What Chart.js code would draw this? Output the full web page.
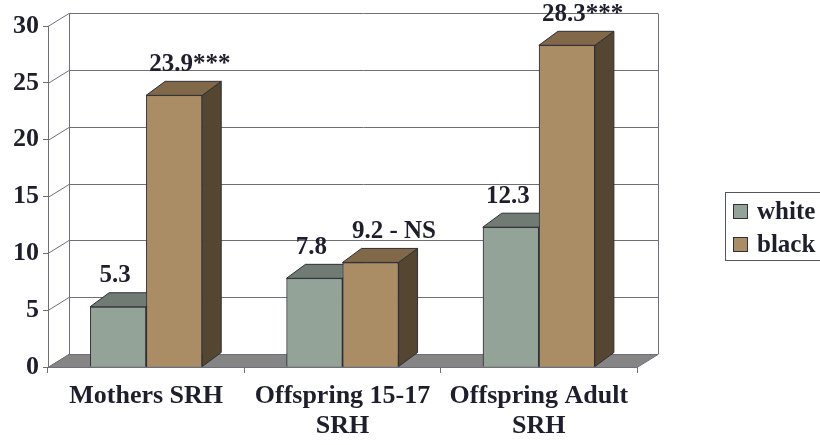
<!DOCTYPE html>
<html>
<head>
<meta charset="utf-8">
<script src="https://cdn.jsdelivr.net/npm/chart.js@4/dist/chart.umd.min.js"></script>
<style>
  html, body { margin: 0; padding: 0; background: #ffffff; }
  #wrap { width: 820px; height: 445px; position: relative; }
</style>
</head>
<body>
<div id="wrap"><canvas id="chart"></canvas></div>
<script>
// Categories (multi-line axis labels)
const categories = [['Mothers SRH'], ['Offspring 15-17', 'SRH'], ['Offspring Adult', 'SRH']];
// Series values
const whiteValues = [5.3, 7.8, 12.3];
const blackValues = [23.9, 9.2, 28.3];
// Significance notes appended to the black-series value labels
const whiteNotes = ['', '', ''];
const blackNotes = ['***', ' - NS', '***'];
// Value axis
const yMin = 0;
const yMax = 30;
const yStep = 5;

const FONT = "'Liberation Serif', 'Times New Roman', serif";
const TEXT = '#1e1e2c';
const GRID = '#6f6f78';
const EDGE = '#2f2f36';

// Offsets for the 3D look: walls/floor and bar depth
const WALL = { dx: 21, dy: -13 };
const BAR = { dx: 19, dy: -14 };

const faces = {
  white: { front: '#94a398', top: '#6f7b73', side: '#56605a' },
  black: { front: '#ab8d65', top: '#806849', side: '#554632' }
};

function poly(ctx, pts, fill, stroke) {
  ctx.beginPath();
  ctx.moveTo(pts[0][0], pts[0][1]);
  for (let i = 1; i < pts.length; i++) ctx.lineTo(pts[i][0], pts[i][1]);
  ctx.closePath();
  if (fill) { ctx.fillStyle = fill; ctx.fill(); }
  if (stroke) { ctx.strokeStyle = stroke; ctx.lineWidth = 1; ctx.stroke(); }
}

const box3d = {
  id: 'box3d',
  beforeDatasetsDraw(chart) {
    const { ctx, chartArea: a, scales: { y } } = chart;
    ctx.save();
    ctx.lineWidth = 1;
    ctx.strokeStyle = GRID;
    // side wall diagonals and back wall grid lines
    for (let v = yMin; v <= yMax; v += yStep) {
      const py = Math.round(y.getPixelForValue(v)) + 0.5;
      ctx.beginPath();
      ctx.moveTo(a.left, py);
      ctx.lineTo(a.left + WALL.dx, py + WALL.dy);
      ctx.lineTo(a.right + WALL.dx, py + WALL.dy);
      ctx.stroke();
    }
    const top = Math.round(y.getPixelForValue(yMax)) + 0.5 + WALL.dy;
    const bot = Math.round(y.getPixelForValue(yMin)) + 0.5 + WALL.dy;
    ctx.beginPath();
    ctx.moveTo(a.left + WALL.dx + 0.5, top);
    ctx.lineTo(a.left + WALL.dx + 0.5, bot);
    ctx.moveTo(a.right + WALL.dx + 0.5, top);
    ctx.lineTo(a.right + WALL.dx + 0.5, bot);
    ctx.stroke();
    // floor
    const fb = Math.round(y.getPixelForValue(yMin)) + 0.5;
    poly(ctx, [
      [a.left, fb], [a.right, fb],
      [a.right + WALL.dx, fb + WALL.dy], [a.left + WALL.dx, fb + WALL.dy]
    ], '#858585', GRID);
    ctx.restore();
  },
  afterDatasetsDraw(chart) {
    const { ctx } = chart;
    const bars = [];
    chart.data.datasets.forEach((ds, di) => {
      const meta = chart.getDatasetMeta(di);
      if (meta.hidden) return;
      meta.data.forEach((el, i) => bars.push({ el, di, i, key: ds.faceKey }));
    });
    bars.sort((p, q) => p.el.x - q.el.x);
    ctx.save();
    for (const b of bars) {
      const { x, y, base, width } = b.el.getProps(['x', 'y', 'base', 'width'], true);
      const l = x - width / 2, r = x + width / 2;
      const f = faces[b.key];
      // side face
      poly(ctx, [[r, y], [r + BAR.dx, y + BAR.dy], [r + BAR.dx, base + BAR.dy], [r, base]], f.side, EDGE);
      // top face
      poly(ctx, [[l, y], [l + BAR.dx, y + BAR.dy], [r + BAR.dx, y + BAR.dy], [r, y]], f.top, EDGE);
      // front face, drawn by the bar element itself
      b.el.draw(ctx);
    }
    // value labels
    ctx.font = 'bold 25px ' + FONT;
    ctx.fillStyle = TEXT;
    ctx.textBaseline = 'middle';
    ctx.textAlign = 'left';
    for (const b of bars) {
      const ds = chart.data.datasets[b.di];
      const { x, y } = b.el.getProps(['x', 'y'], true);
      const num = ds.data[b.i].toFixed(1);
      const note = ds.notes[b.i] || '';
      const w = ctx.measureText(num).width;
      const x0 = x - 3 - w / 2;
      const ym = y + BAR.dy - 17;
      ctx.fillText(num, x0, ym);
      if (note) ctx.fillText(note, x0 + w, ym);
    }
    ctx.restore();
  },
  afterDraw(chart) {
    // legend box on the right
    const { ctx } = chart;
    ctx.save();
    ctx.strokeStyle = '#55555e';
    ctx.lineWidth = 1;
    ctx.strokeRect(725.5, 192.5, 100, 68);
    ctx.font = 'bold 25px ' + FONT;
    ctx.textBaseline = 'middle';
    ctx.textAlign = 'left';
    chart.data.datasets.forEach((ds, di) => {
      const cy = 212 + di * 33;
      ctx.fillStyle = ds.backgroundColor;
      ctx.fillRect(733.5, cy - 7.5, 14, 14);
      ctx.strokeStyle = EDGE;
      ctx.strokeRect(733.5, cy - 7.5, 14, 14);
      ctx.fillStyle = TEXT;
      ctx.fillText(ds.label, 757, cy + 1);
    });
    ctx.restore();
  }
};

new Chart(document.getElementById('chart'), {
  type: 'bar',
  data: {
    labels: categories,
    datasets: [
      { label: 'white', data: whiteValues, notes: whiteNotes, faceKey: 'white',
        backgroundColor: faces.white.front, borderColor: EDGE, borderWidth: 1 },
      { label: 'black', data: blackValues, notes: blackNotes, faceKey: 'black',
        backgroundColor: faces.black.front, borderColor: EDGE, borderWidth: 1 }
    ]
  },
  options: {
    responsive: true,
    maintainAspectRatio: false,
    animation: false,
    categoryPercentage: 0.571,
    barPercentage: 1.0,
    layout: { padding: { left: 0, top: 26, right: 183, bottom: 0 } },
    plugins: { legend: { display: false }, tooltip: { enabled: false } },
    scales: {
      x: {
        afterFit(s) { s.height = 78; },
        grid: { offset: true, drawOnChartArea: false, tickLength: 6, color: GRID },
        border: { display: true, color: GRID },
        ticks: {
          color: TEXT, maxRotation: 0, autoSkip: false, padding: 8,
          font: { family: FONT, size: 26, weight: 'bold', lineHeight: 1.17 }
        }
      },
      y: {
        min: yMin, max: yMax,
        afterFit(s) { s.width = 48; },
        grid: { drawOnChartArea: false, tickLength: 5, color: GRID },
        border: { display: true, color: GRID },
        ticks: {
          stepSize: yStep, color: TEXT, padding: 4,
          font: { family: FONT, size: 26, weight: 'bold' }
        }
      }
    }
  },
  plugins: [box3d]
});
</script>
</body>
</html>
